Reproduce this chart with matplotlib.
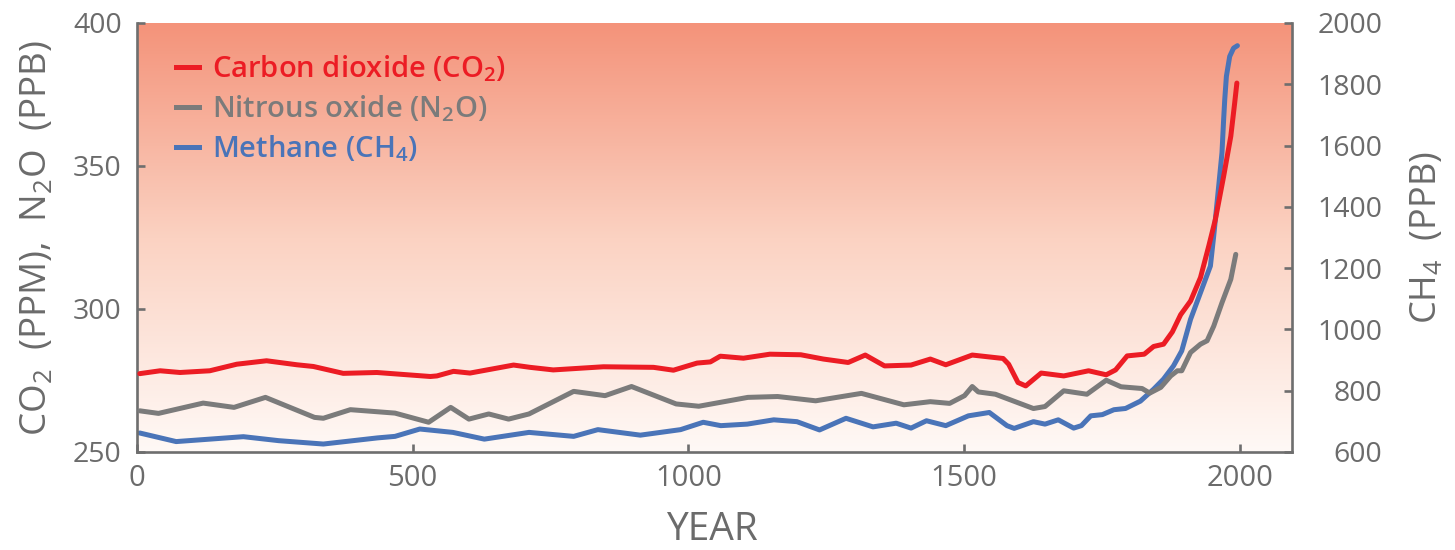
import matplotlib
matplotlib.use("Agg")
import matplotlib.pyplot as plt
import numpy as np
from matplotlib.lines import Line2D
from matplotlib.colors import LinearSegmentedColormap

plt.rcParams['font.family'] = ['Open Sans', 'DejaVu Sans']
plt.rcParams['mathtext.fontset'] = 'custom'
plt.rcParams['mathtext.rm'] = 'Open Sans'
plt.rcParams['mathtext.default'] = 'regular'

# ---------------- data ----------------
co2_years = [5, 42, 78, 132, 181, 235, 290, 320, 374, 435, 532, 544, 574, 604, 683, 713, 755,
             846, 937, 973, 1016, 1040, 1058, 1100, 1148, 1204, 1245, 1290, 1321, 1356, 1404,
             1439, 1467, 1515, 1571, 1581, 1598, 1612, 1640, 1681, 1726, 1758, 1775, 1796,
             1827, 1844, 1862, 1878, 1893, 1911, 1929, 1944, 1956, 1971, 1984, 1991, 1995]
co2_ppm = [277.4, 278.4, 277.8, 278.4, 280.7, 281.9, 280.5, 279.9, 277.5, 277.8, 276.4, 276.6,
           278.2, 277.6, 280.4, 279.6, 278.7, 279.8, 279.6, 278.6, 281.1, 281.5, 283.5, 282.8,
           284.2, 284.0, 282.5, 281.3, 283.9, 280.1, 280.4, 282.5, 280.5, 283.9, 282.7, 280.7,
           274.3, 273.1, 277.6, 276.6, 278.4, 277.0, 278.7, 283.6, 284.2, 286.9, 287.7, 292.0,
           298.0, 302.8, 311.0, 322.0, 331.3, 346.4, 360.4, 372.0, 379.0]

n2o_years = [5, 39, 120, 176, 233, 322, 338, 387, 468, 529, 569, 602, 638, 674, 711, 792, 849,
             897, 978, 1019, 1108, 1162, 1231, 1314, 1391, 1439, 1474, 1501, 1515, 1526, 1557,
             1626, 1647, 1681, 1723, 1758, 1785, 1823, 1837, 1857, 1875, 1887, 1895, 1911,
             1929, 1941, 1953, 1968, 1984, 1993]
n2o_ppb = [264.4, 263.5, 267.1, 265.6, 269.1, 262.1, 261.8, 264.8, 263.6, 260.4, 265.6, 261.5,
           263.3, 261.5, 263.3, 271.2, 269.7, 272.9, 266.8, 266.0, 269.1, 269.4, 267.9, 270.5,
           266.5, 267.6, 267.0, 269.7, 272.9, 271.0, 270.2, 265.2, 265.9, 271.4, 270.2, 275.1,
           272.8, 272.2, 270.6, 272.6, 276.6, 278.4, 278.4, 284.8, 287.7, 288.9, 294.0, 302.2,
           310.4, 319.1]

ch4_years = [5, 71, 193, 257, 338, 436, 468, 513, 573, 630, 711, 792, 836, 913, 986, 1027, 1059,
             1107, 1155, 1197, 1238, 1286, 1335, 1377, 1404, 1432, 1467, 1508, 1546, 1578, 1591,
             1626, 1647, 1671, 1699, 1713, 1730, 1751, 1772, 1793, 1820, 1844, 1862, 1880, 1895,
             1911, 1929, 1947, 1953, 1962, 1968, 1971, 1973, 1976, 1982, 1989, 1996]
ch4_ppb = [662, 634, 650, 637, 626, 646, 651, 675, 664, 642, 664, 651, 673, 655, 673, 697, 686,
           691, 705, 699, 672, 710, 682, 694, 678, 702, 686, 718, 729, 686, 677, 699, 691, 705,
           678, 686, 718, 722, 738, 742, 766, 805, 838, 881, 930, 1033, 1120, 1207, 1305, 1467,
           1577, 1685, 1750, 1826, 1891, 1918, 1926]

x_ticks = [0, 500, 1000, 1500, 2000]
left_ticks = [250, 300, 350, 400]
right_ticks = [600, 800, 1000, 1200, 1400, 1600, 1800, 2000]

labels = ['Carbon dioxide (CO$_2$)', 'Nitrous oxide (N$_2$O)', 'Methane (CH$_4$)']

# ---------------- style ----------------
RED = '#EC1C24'
GRAY = '#7B7B7B'
BLUE = '#4A74B8'
AXC = '#6E6E6E'
TXT = '#6B6B6B'
LW = 3.6

fig = plt.figure(figsize=(14.55, 5.5), dpi=100)
ax = fig.add_axes([137 / 1455, 1 - 452 / 550, (1292 - 137) / 1455, (452 - 23) / 550])
ax2 = ax.twinx()
ax.set_zorder(2)
ax2.set_zorder(1)
ax.patch.set_visible(False)

# gradient background on lower axes
cmap = LinearSegmentedColormap.from_list('bg', ['#FFF9F6', '#FBD2C2', '#F4937A'])
grad = np.linspace(0, 1, 256).reshape(-1, 1)
ax2.imshow(grad, extent=[0, 1, 0, 1], transform=ax2.transAxes, aspect='auto',
           cmap=cmap, origin='lower', zorder=0, interpolation='bicubic')

ax2.plot(ch4_years, ch4_ppb, color=BLUE, lw=LW, solid_capstyle='round', solid_joinstyle='round', zorder=3)
ax.plot(n2o_years, n2o_ppb, color=GRAY, lw=LW, solid_capstyle='round', solid_joinstyle='round', zorder=3)
ax.plot(co2_years, co2_ppm, color=RED, lw=LW, solid_capstyle='round', solid_joinstyle='round', zorder=4)

ax.set_xlim(0, 2095)
ax.set_ylim(250, 400)
ax2.set_ylim(600, 2000)
ax2.set_xlim(0, 2095)

ax.set_xticks(x_ticks)
ax.set_yticks(left_ticks)
ax2.set_yticks(right_ticks)

for a in (ax, ax2):
    a.spines['top'].set_visible(False)
    for s in a.spines.values():
        s.set_color(AXC)
        s.set_linewidth(1.9)
ax.spines['right'].set_visible(False)
ax2.spines['left'].set_visible(False)
ax2.spines['bottom'].set_visible(False)

ax.tick_params(axis='y', direction='in', length=6, width=1.9, color=AXC, labelcolor=TXT,
               labelsize=20.5, pad=11)
ax.tick_params(axis='x', direction='in', length=6, width=1.9, color=AXC, labelcolor=TXT,
               labelsize=21, pad=9)
ax2.tick_params(axis='y', direction='in', length=6, width=1.9, color=AXC, labelcolor=TXT,
                labelsize=20.5, pad=65)
for lab in ax2.get_yticklabels():
    lab.set_horizontalalignment('right')

ax.set_ylabel('CO$_2$  (PPM),  N$_2$O  (PPB)', fontsize=26.5, color=TXT)
ax.yaxis.set_label_coords(-0.071, 0.5)
ax2.set_ylabel('CH$_4$  (PPB)', fontsize=26, color=TXT, rotation=90)
ax2.yaxis.set_label_coords(1.101, 0.5)
ax.set_xlabel('YEAR', fontsize=28, color=TXT)
ax.xaxis.set_label_coords(0.498, -0.1375)

handles = [Line2D([], [], color=RED, lw=LW), Line2D([], [], color=GRAY, lw=LW),
           Line2D([], [], color=BLUE, lw=LW)]
leg = ax.legend(handles, labels, loc='upper left', bbox_to_anchor=(0.034, 0.928),
                frameon=False, handlelength=0.78, handletextpad=0.45,
                labelspacing=0.3, borderpad=0, borderaxespad=0,
                labelcolor=[RED, GRAY, BLUE], prop={'weight': 'semibold', 'size': 21})

fig.savefig('out.png', dpi=100)
